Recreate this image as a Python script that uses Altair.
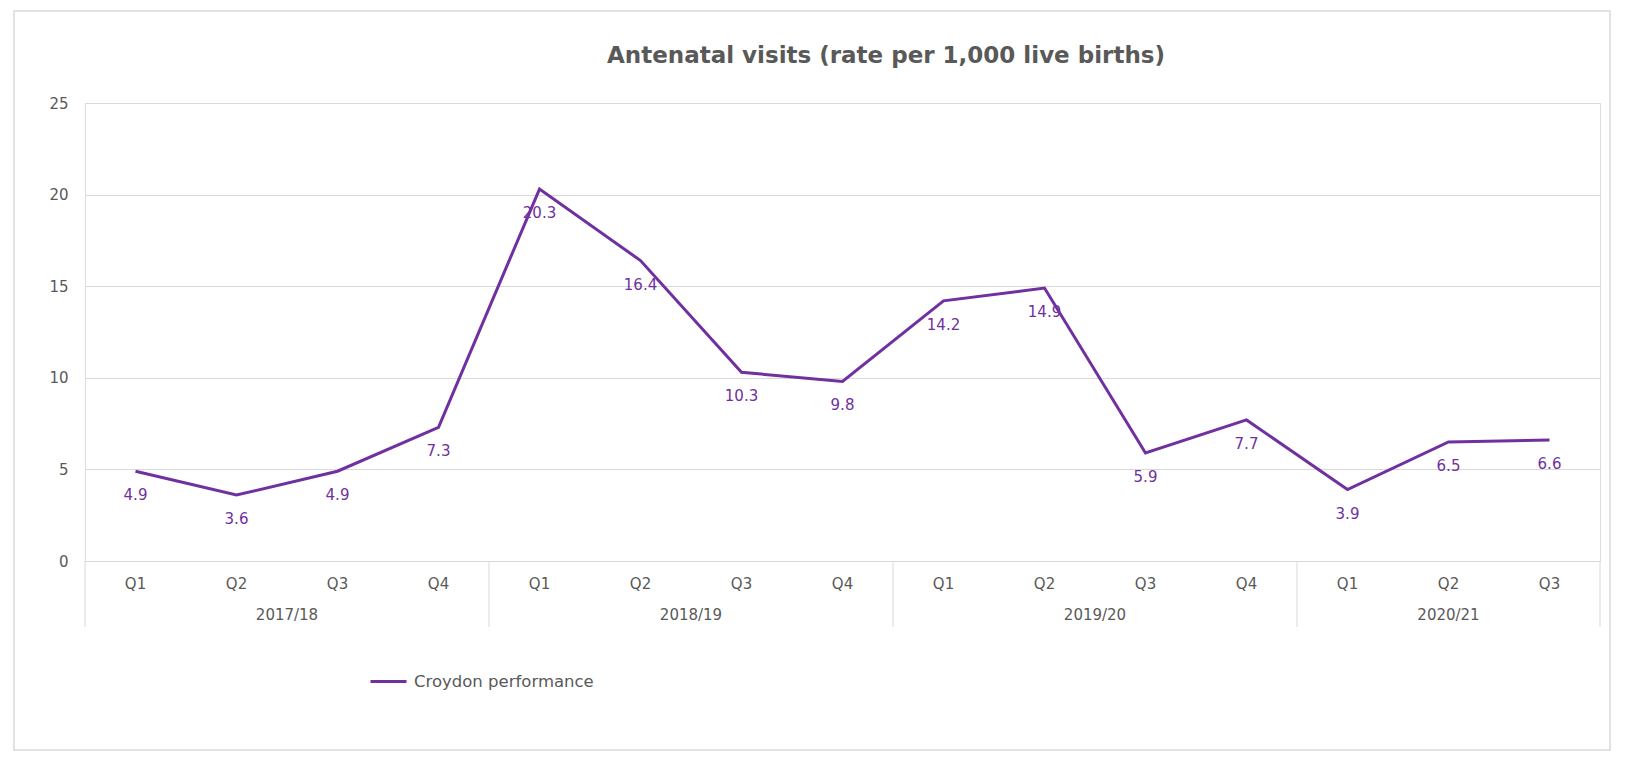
import altair as alt
import pandas as pd

# ---- data ----
years = ["2017/18"] * 4 + ["2018/19"] * 4 + ["2019/20"] * 4 + ["2020/21"] * 3
quarters = ["Q1", "Q2", "Q3", "Q4"] * 3 + ["Q1", "Q2", "Q3"]
values = [4.9, 3.6, 4.9, 7.3, 20.3, 16.4, 10.3, 9.8, 14.2, 14.9, 5.9, 7.7, 3.9, 6.5, 6.6]
series_name = "Croydon performance"
title_text = "Antenatal visits (rate per 1,000 live births)"
y_ticks = [0, 5, 10, 15, 20, 25]

df = pd.DataFrame({
    "idx": list(range(len(values))),
    "year": years,
    "quarter": quarters,
    "value": values,
    "series": [series_name] * len(values),
})

grp = df.groupby("year", sort=False)["idx"].agg(["min", "max"]).reset_index()
grp["mid"] = (grp["min"] + grp["max"]) / 2
bounds = sorted(set(list(grp["min"] - 0.5) + list(grp["max"] + 0.5)))
bdf = pd.DataFrame({"b": bounds})

W, H = 1515, 458
PURPLE = "#7030A0"
GRAY_TXT = "#595959"
GRID = "#d9d9d9"
FONT = "DejaVu Sans"
FS = 15

x_scale = alt.Scale(domain=[-0.5, len(values) - 0.5], nice=False, zero=False)
y_scale = alt.Scale(domain=[0, 25], nice=False)

base = alt.Chart(df)

line = base.mark_line(strokeWidth=3).encode(
    x=alt.X("idx:Q", scale=x_scale,
            axis=alt.Axis(title=None, labels=False, ticks=False, grid=False,
                          domain=True, domainColor=GRID, domainWidth=1)),
    y=alt.Y("value:Q", scale=y_scale,
            axis=alt.Axis(title=None, values=y_ticks, grid=True, gridColor=GRID,
                          domain=False, ticks=False, labelPadding=17,
                          labelColor=GRAY_TXT, labelFontSize=FS, labelFont=FONT)),
    color=alt.Color("series:N", scale=alt.Scale(range=[PURPLE]),
                    legend=alt.Legend(title=None, orient="none", legendX=284, legendY=559,
                                      symbolType="stroke", symbolSize=1296,
                                      symbolStrokeWidth=3, labelFontSize=16.5,
                                      labelFont=FONT, labelColor=GRAY_TXT,
                                      labelOffset=6, labelLimit=400)),
)

labels = base.mark_text(dy=24, fontSize=FS, font=FONT, color=PURPLE, baseline="middle").encode(
    x=alt.X("idx:Q", scale=x_scale),
    y=alt.Y("value:Q", scale=y_scale),
    text=alt.Text("value:Q", format=".1f"),
)

q_labels = base.mark_text(fontSize=FS, font=FONT, color=GRAY_TXT, baseline="middle").encode(
    x=alt.X("idx:Q", scale=x_scale),
    y=alt.value(H + 23),
    text="quarter:N",
)

year_labels = alt.Chart(grp).mark_text(fontSize=FS, font=FONT, color=GRAY_TXT, baseline="middle").encode(
    x=alt.X("mid:Q", scale=x_scale),
    y=alt.value(H + 54),
    text="year:N",
)

separators = alt.Chart(bdf).mark_rule(color=GRID, strokeWidth=1).encode(
    x=alt.X("b:Q", scale=x_scale),
    y=alt.value(H),
    y2=alt.value(H + 66),
)

title_mark = alt.Chart(pd.DataFrame({"t": [title_text]})).mark_text(
    fontSize=23, font=FONT, fontWeight="bold", color=GRAY_TXT, baseline="middle", align="center"
).encode(text="t:N", x=alt.value(801), y=alt.value(-47))

frame = alt.Chart(pd.DataFrame({"a": [0]})).mark_rect(
    filled=False, stroke=GRID, strokeWidth=1.5
).encode(x=alt.value(-71), x2=alt.value(1525), y=alt.value(-92), y2=alt.value(647))

chart = alt.layer(frame, separators, line, labels, q_labels, year_labels, title_mark).properties(
    width=W, height=H,
    autosize=alt.AutoSizeParams(type="none"),
    padding={"left": 77, "top": 95, "right": 18, "bottom": 190},
).configure_view(stroke=None).configure(background="white")

chart.save("out.html", embed_options={"renderer": "svg", "actions": False})
